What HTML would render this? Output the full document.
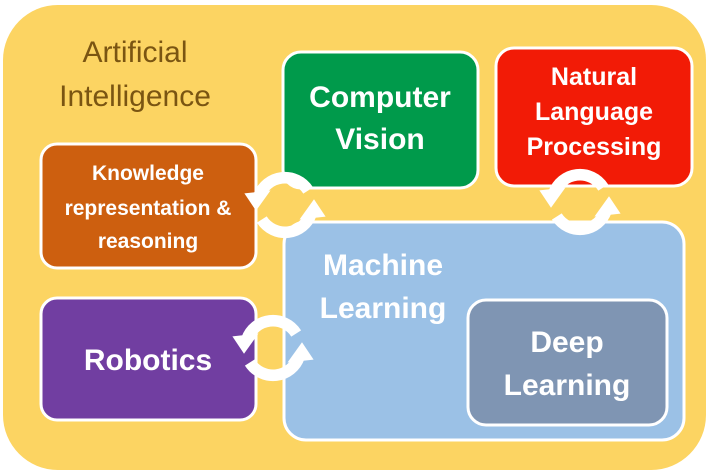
<!DOCTYPE html>
<html><head><meta charset="utf-8"><style>
html,body{margin:0;padding:0;background:#fff;}
svg{display:block;}
text{font-family:"Liberation Sans",sans-serif;font-weight:bold;fill:#fff;text-anchor:middle;}
</style></head><body>
<svg width="710" height="474" viewBox="0 0 710 474" xmlns="http://www.w3.org/2000/svg">
<defs>
<g id="cyc">
<path d="M-18,-6 A19,19 0 0 1 16,-10" fill="none" stroke="#fff" stroke-width="8"/>
<polygon points="-28,-8 -10,-10 -20,4" fill="#fff"/>
<path d="M18,6 A19,19 0 0 1 -16,10" fill="none" stroke="#fff" stroke-width="8"/>
<polygon points="28,8 10,10 20,-4" fill="#fff"/>
</g>
</defs>
<rect x="3" y="5" width="703" height="465" rx="55" fill="#fcd462"/>
<text x="135" y="62" style="fill:#7a5512;font-size:30px;font-weight:normal">Artificial</text>
<text x="135" y="106" style="fill:#7a5512;font-size:30px;font-weight:normal">Intelligence</text>

<rect x="283" y="52" width="195" height="136" rx="18" fill="#009a4b" stroke="#fff" stroke-width="3"/>
<text x="380" y="107" font-size="30">Computer</text>
<text x="380" y="149" font-size="30">Vision</text>

<rect x="496" y="48" width="196" height="138" rx="18" fill="#f21b06" stroke="#fff" stroke-width="3"/>
<text x="594" y="85" font-size="25">Natural</text>
<text x="594" y="120" font-size="25">Language</text>
<text x="594" y="155" font-size="25">Processing</text>

<rect x="41" y="144" width="215" height="124" rx="16" fill="#cd5f0f" stroke="#fff" stroke-width="3"/>
<text x="148" y="180" font-size="21">Knowledge</text>
<text x="148" y="215" font-size="21">representation &amp;</text>
<text x="148" y="248" font-size="21">reasoning</text>

<rect x="41" y="298" width="215" height="122" rx="16" fill="#713ea1" stroke="#fff" stroke-width="3"/>
<text x="148" y="370" font-size="30">Robotics</text>

<rect x="284" y="222" width="400" height="218" rx="22" fill="#9bc1e6" stroke="#fff" stroke-width="3"/>
<text x="383" y="275" font-size="30">Machine</text>
<text x="383" y="318" font-size="30">Learning</text>

<rect x="468" y="300" width="199" height="125" rx="18" fill="#7f95b3" stroke="#fff" stroke-width="3"/>
<text x="567" y="352" font-size="30">Deep</text>
<text x="567" y="395" font-size="30">Learning</text>

<use href="#cyc" transform="translate(285,205) scale(1.45)"/>
<use href="#cyc" transform="translate(580,202) scale(1.45)"/>
<use href="#cyc" transform="translate(273,348) scale(1.45)"/>
</svg>
</body></html>
